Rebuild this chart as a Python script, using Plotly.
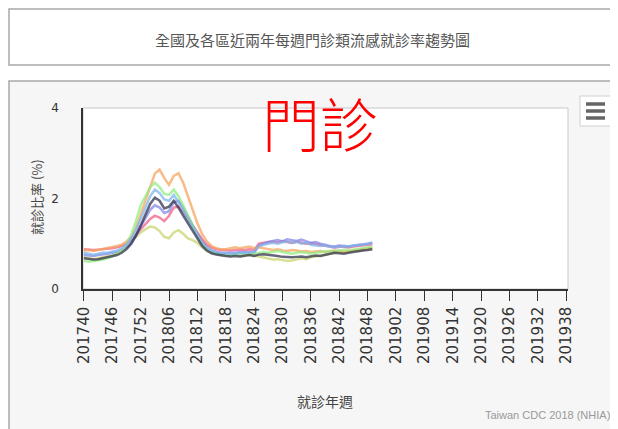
import plotly.graph_objects as go

# weekly categories 201740 .. 201938
weeks = ([f"2017{w:02d}" for w in range(40, 53)]
         + [f"2018{w:02d}" for w in range(1, 53)]
         + [f"2019{w:02d}" for w in range(1, 39)])
tick_labels = weeks[::6]

series_names = ["全國", "台北區", "北區", "中區", "南區", "高屏區", "東區"]

national = [
    0.68, 0.66, 0.65, 0.66, 0.68, 0.70, 0.72, 0.75, 0.80, 0.88,
    1.00, 1.18, 1.40, 1.65, 1.88, 2.02, 1.95, 1.78, 1.82, 1.95,
    1.80, 1.62, 1.45, 1.28, 1.10, 0.95, 0.85, 0.79, 0.76, 0.74,
    0.73, 0.72, 0.73, 0.72, 0.74, 0.75, 0.73, 0.76, 0.77, 0.76,
    0.74, 0.73, 0.71, 0.70, 0.70, 0.71, 0.72, 0.70, 0.72, 0.74,
    0.73, 0.75, 0.78, 0.80, 0.79, 0.78, 0.80, 0.82, 0.84, 0.85,
    0.86, 0.88]
taipei = [
    0.80, 0.78, 0.76, 0.78, 0.80, 0.80, 0.82, 0.85, 0.90, 0.98,
    1.12, 1.30, 1.55, 1.80, 2.05, 2.20, 2.12, 1.98, 1.95, 2.08,
    1.92, 1.72, 1.55, 1.38, 1.18, 1.00, 0.90, 0.84, 0.80, 0.78,
    0.78, 0.77, 0.78, 0.79, 0.80, 0.80, 0.82, 0.95, 0.98, 1.00,
    1.02, 1.00, 1.03, 1.05, 1.02, 1.04, 1.00, 1.02, 0.98, 0.97,
    0.95, 0.96, 0.94, 0.92, 0.93, 0.95, 0.94, 0.96, 0.97, 0.98,
    1.00, 1.02]
north = [
    0.62, 0.60, 0.62, 0.63, 0.65, 0.68, 0.72, 0.78, 0.85, 0.98,
    1.20, 1.50, 1.85, 2.05, 2.25, 2.35, 2.25, 2.10, 2.08, 2.20,
    2.05, 1.85, 1.62, 1.40, 1.18, 1.00, 0.90, 0.83, 0.79, 0.77,
    0.76, 0.75, 0.76, 0.77, 0.76, 0.78, 0.78, 0.80, 0.82, 0.80,
    0.82, 0.84, 0.82, 0.80, 0.78, 0.80, 0.82, 0.80, 0.78, 0.80,
    0.82, 0.83, 0.84, 0.83, 0.85, 0.86, 0.85, 0.87, 0.88, 0.90,
    0.92, 0.93]
central = [
    0.85, 0.86, 0.84, 0.86, 0.88, 0.90, 0.92, 0.95, 0.98, 1.05,
    1.15, 1.35, 1.65, 1.95, 2.30, 2.55, 2.64, 2.45, 2.30, 2.50,
    2.56, 2.35, 2.05, 1.75, 1.45, 1.22, 1.05, 0.95, 0.90, 0.88,
    0.88, 0.90, 0.92, 0.90, 0.92, 0.94, 0.90, 0.92, 0.90, 0.88,
    0.86, 0.88, 0.85, 0.84, 0.86, 0.85, 0.83, 0.84, 0.82, 0.83,
    0.84, 0.82, 0.83, 0.85, 0.84, 0.82, 0.83, 0.85, 0.86, 0.88,
    0.90, 0.92]
south = [
    0.75, 0.74, 0.73, 0.75, 0.76, 0.78, 0.80, 0.82, 0.86, 0.92,
    1.02, 1.18, 1.38, 1.58, 1.75, 1.85, 1.80, 1.68, 1.72, 1.92,
    1.95, 1.80, 1.60, 1.42, 1.22, 1.05, 0.92, 0.86, 0.82, 0.80,
    0.80, 0.79, 0.80, 0.82, 0.81, 0.82, 0.80, 0.96, 1.00, 1.04,
    1.06, 1.08, 1.05, 1.10, 1.08, 1.06, 1.09, 1.05, 1.02, 1.04,
    1.00, 0.98, 0.95, 0.94, 0.96, 0.95, 0.94, 0.96, 0.97, 0.99,
    1.00, 1.02]
kaoping = [
    0.88, 0.87, 0.86, 0.87, 0.88, 0.88, 0.90, 0.92, 0.95, 1.00,
    1.08, 1.20, 1.32, 1.45, 1.55, 1.62, 1.58, 1.50, 1.62, 1.80,
    1.82, 1.70, 1.55, 1.40, 1.25, 1.10, 0.98, 0.92, 0.88, 0.86,
    0.86, 0.85, 0.86, 0.87, 0.86, 0.88, 0.86, 1.00, 1.02, 1.04,
    1.05, 1.03, 1.06, 1.04, 1.02, 1.05, 1.03, 1.00, 1.01, 0.99,
    0.97, 0.95, 0.93, 0.92, 0.94, 0.93, 0.92, 0.94, 0.95, 0.96,
    0.98, 0.99]
east = [
    0.70, 0.68, 0.66, 0.68, 0.70, 0.72, 0.74, 0.78, 0.85, 0.95,
    1.05, 1.15, 1.25, 1.32, 1.38, 1.36, 1.28, 1.15, 1.12, 1.25,
    1.30, 1.22, 1.12, 1.08, 1.02, 0.92, 0.84, 0.80, 0.77, 0.75,
    0.74, 0.73, 0.75, 0.72, 0.74, 0.76, 0.74, 0.72, 0.70, 0.68,
    0.65, 0.66, 0.64, 0.62, 0.63, 0.65, 0.68, 0.66, 0.70, 0.72,
    0.74, 0.76, 0.78, 0.80, 0.82, 0.80, 0.83, 0.85, 0.84, 0.86,
    0.88, 0.90]

series_values = [national, taipei, north, central, south, kaoping, east]
series_colors = ["#2e2e4a", "#7cb5ec", "#90ed7d", "#f7a35c",
                 "#8085e9", "#f15c80", "#c8d46a"]

# the page body adds an 8px offset, so the figure is a bit smaller than the window
OFF = 8
W, H = 618 - OFF, 429 - OFF
L, R, T, B = 83, 568, 108, 289   # plot area in window pixels


def xp(px):
    return (px - L) / (R - L)


def yp(py):
    return (B - py) / (B - T)


CJK = "Noto Sans CJK TC"

fig = go.Figure()

# draw back to front so the national line sits on top
for name, vals, color in reversed(list(zip(series_names, series_values, series_colors))):
    fig.add_trace(go.Scatter(
        x=list(range(len(vals))),
        y=vals,
        mode="lines",
        name=name,
        customdata=weeks[:len(vals)],
        hovertemplate="%{customdata}: %{y}<extra>" + name + "</extra>",
        line=dict(color=color, width=2.5),
        opacity=0.72
    ))

shapes = [
    # title box
    dict(type="rect", xref="paper", yref="paper",
         x0=xp(9), x1=xp(616), y0=yp(65), y1=yp(9),
         line=dict(color="#a8a8a8", width=1.5), fillcolor="white", layer="below"),
    # chart panel
    dict(type="rect", xref="paper", yref="paper",
         x0=xp(9), x1=xp(616), y0=yp(440), y1=yp(81),
         line=dict(color="#a8a8a8", width=1.5), fillcolor="#f6f6f6", layer="below"),
    # plot area
    dict(type="rect", xref="paper", yref="paper",
         x0=0, x1=1, y0=0, y1=1,
         line=dict(color="#c8c8c8", width=1), fillcolor="white", layer="below"),
    # menu button
    dict(type="rect", xref="paper", yref="paper",
         x0=xp(580), x1=xp(611), y0=yp(126), y1=yp(96),
         line=dict(color="#d0d0d0", width=1), fillcolor="white"),
]
for by in (104, 111, 118):
    shapes.append(dict(type="line", xref="paper", yref="paper",
                       x0=xp(586), x1=xp(605), y0=yp(by), y1=yp(by),
                       line=dict(color="#666666", width=3.5)))


def label(text, px, py, size, color, family=CJK, **kw):
    d = dict(text=text, x=xp(px), y=yp(py), xref="paper", yref="paper",
             xanchor="center", yanchor="middle", showarrow=False,
             font=dict(family=family, size=size, color=color))
    d.update(kw)
    return d


big = label("門診", 320, 122, 58, "red")
big["font"]["weight"] = 300

annotations = [
    label("全國及各區近兩年每週門診類流感就診率趨勢圖", 312, 39, 15, "#555555"),
    big,
    label("就診比率 (%)", 36, 197, 13, "#444444", textangle=-90),
    label("就診年週", 325, 401, 14, "#444444"),
    label("Taiwan CDC 2018 (NHIA)", 612, 415, 11, "#999999",
          family="Liberation Sans", xanchor="right"),
]

fig.update_layout(
    width=W, height=H,
    margin=dict(l=L - OFF, r=618 - R, t=T - OFF, b=429 - B, autoexpand=False),
    paper_bgcolor="white",
    plot_bgcolor="rgba(0,0,0,0)",
    showlegend=False,
    shapes=shapes,
    annotations=annotations,
    xaxis=dict(
        range=[-0.2, 102.4],
        tickmode="array",
        tickvals=list(range(0, len(weeks), 6)),
        ticktext=tick_labels,
        tickangle=-90,
        ticks="outside", ticklen=10, tickcolor="#333333", tickwidth=1,
        showline=True, linecolor="#333333", linewidth=1.5,
        showgrid=False, zeroline=False,
        tickfont=dict(family="DejaVu Sans", size=15, color="#333333"),
    ),
    yaxis=dict(
        range=[0, 4],
        tickvals=[0, 2, 4],
        showline=True, linecolor="#333333", linewidth=1.5,
        showgrid=False, zeroline=False,
        ticks="", ticklabelstandoff=20,
        tickfont=dict(family="DejaVu Sans", size=12, color="#333333"),
    ),
)

fig.write_html("out.html")
